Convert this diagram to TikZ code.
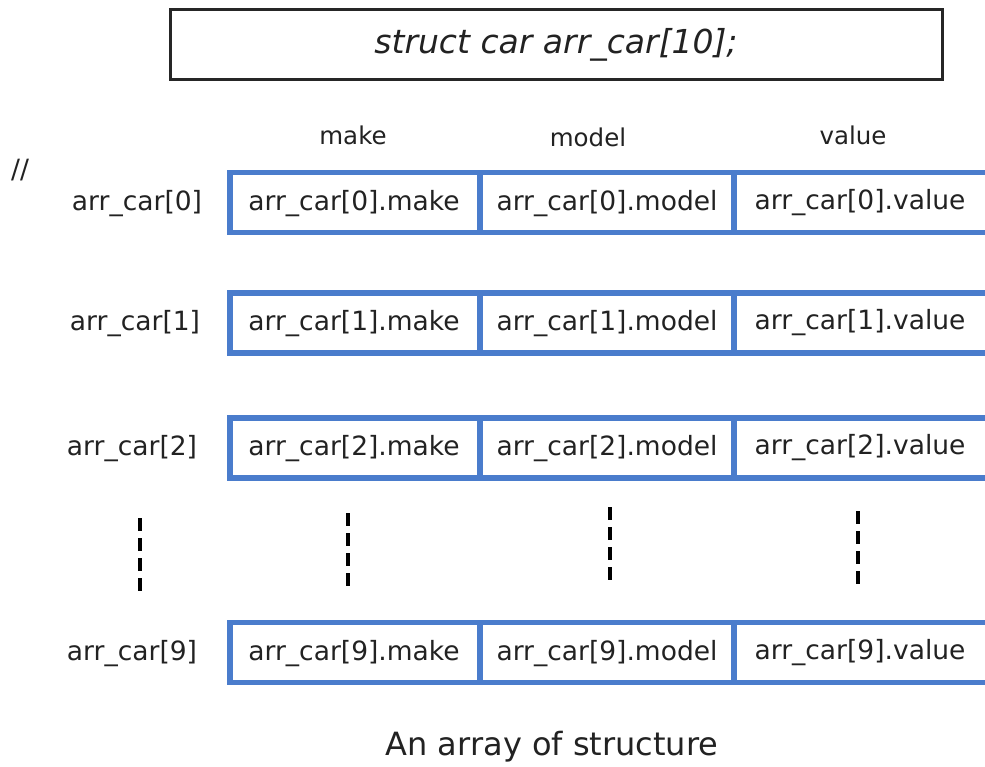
\documentclass[tikz,border=0pt]{standalone}
\usepackage{fontspec}
\setmainfont{DejaVu Sans}
\definecolor{cellblue}{RGB}{74,124,204}
\definecolor{ink}{RGB}{34,34,34}
\begin{document}
\begin{tikzpicture}[x=1pt,y=-1pt,
  txt/.style={inner sep=0pt,text=ink,font=\fontsize{26.5}{31}\selectfont},
  cell/.style={draw=cellblue,line width=5.5pt,minimum height=60pt,inner sep=0pt},
  cmake/.style={cell,minimum width=250pt},
  cwide/.style={cell,minimum width=254pt},
  dots/.style={line width=4.5pt,dash pattern=on 12.5pt off 7.5pt}]
\useasboundingbox (0,0) rectangle (985,767);
\clip (0,0) rectangle (985,767);
\fill[white] (0,0) rectangle (985,767);

% declaration box
\node[draw=black!85,line width=3pt,minimum width=772pt,minimum height=70pt,
  inner sep=0pt,text=ink,font=\fontsize{33}{39}\selectfont\itshape]
  (decl) at (556,45) {struct car arr\_car[10];};

% member headers
\node[txt,font=\fontsize{24.5}{29}\selectfont] (hmake) at (353,135) {make};
\node[txt,font=\fontsize{24.5}{29}\selectfont] (hmodel) at (588,137) {model};
\node[txt,font=\fontsize{24.5}{29}\selectfont] (hvalue) at (853,135) {value};
\node[txt] (slashes) at (20,170) {//};

% rows of the array
\foreach \i/\y/\lx in {0/202.5/137,1/323/135,2/448/132,9/652.5/132}{
  \node[txt] (lab\i) at (\lx,\y+1) {arr\_car[\i]};
  \node[cmake] (make\i) at (355,\y) {};
  \node[txt] (mtext\i) at (354,\y+1) {arr\_car[\i].make};
  \node[cwide] (model\i) at (607,\y) {};
  \node[txt] (otext\i) at (607,\y+1) {arr\_car[\i].model};
  \node[cwide] (value\i) at (861,\y) {};
  \node[txt] (vtext\i) at (860,\y) {arr\_car[\i].value};
}

% continuation marks
\coordinate (d1a) at (140,518); \coordinate (d1b) at (140,592);
\coordinate (d2a) at (348,513); \coordinate (d2b) at (348,587);
\coordinate (d3a) at (610,507); \coordinate (d3b) at (610,581);
\coordinate (d4a) at (858,511); \coordinate (d4b) at (858,585);
\draw[dots] (d1a) -- (d1b);
\draw[dots] (d2a) -- (d2b);
\draw[dots] (d3a) -- (d3b);
\draw[dots] (d4a) -- (d4b);

% caption
\node[txt,font=\fontsize{32}{38}\selectfont] (caption) at (552,747) {An array of structure};
\end{tikzpicture}
\end{document}
